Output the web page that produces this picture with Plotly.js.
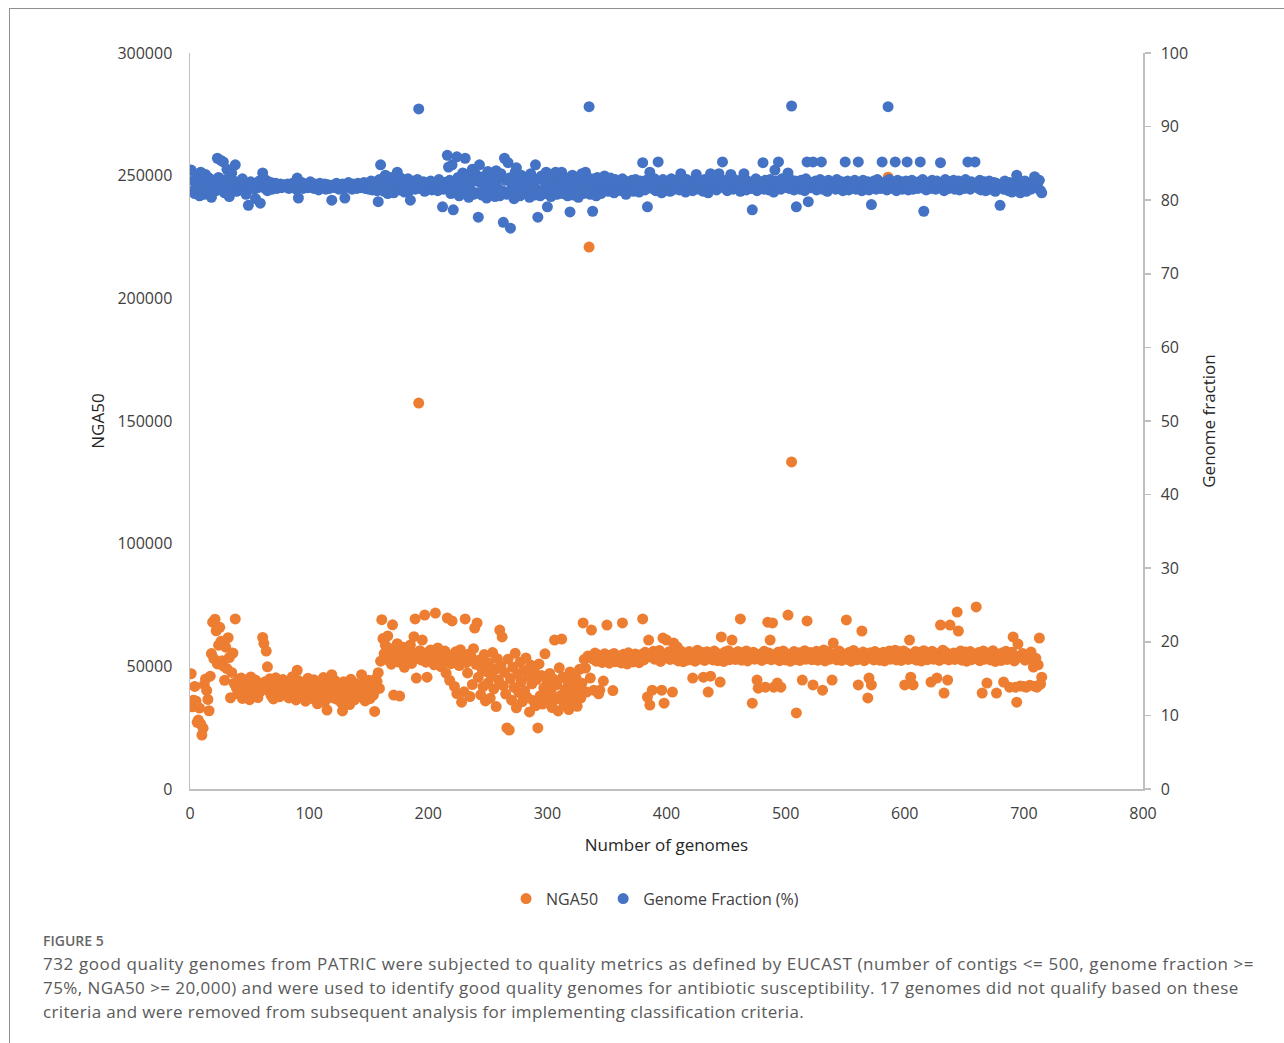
<!DOCTYPE html>
<html>
<head>
<meta charset="utf-8">
<script src="https://cdn.plot.ly/plotly-3.0.1.min.js"></script>
<style>
  html, body { margin: 0; padding: 0; background: #ffffff; overflow: hidden; }
  #chart { position: absolute; left: 0; top: 0; width: 1284px; height: 1043px; }
  #frame { position: absolute; left: 9px; top: 8px; width: 1400px; height: 1200px;
           border-left: 1px solid #8f8f8f; border-top: 1px solid #8f8f8f; pointer-events: none; }
  .cap { position: absolute; left: 43px; font-family: "Open Sans", sans-serif; color: #5a5a5a; white-space: nowrap; }
  #figlabel { top: 931px; font-size: 14px; font-weight: 600; color: #666666; }
  .line { font-size: 17px; }
</style>
</head>
<body>
<div id="chart"></div>
<div id="frame"></div>
<div class="cap" id="figlabel">FIGURE 5</div>
<div class="cap line" style="top:952px; letter-spacing:0.59px">732 good quality genomes from PATRIC were subjected to quality metrics as defined by EUCAST (number of contigs &lt;= 500, genome fraction &gt;=</div>
<div class="cap line" style="top:976px; letter-spacing:0.46px">75%, NGA50 &gt;= 20,000) and were used to identify good quality genomes for antibiotic susceptibility. 17 genomes did not qualify based on these</div>
<div class="cap line" style="top:1000px; letter-spacing:0.35px">criteria and were removed from subsequent analysis for implementing classification criteria.</div>
<script>
// NGA50 per genome (genome 1..715)
const nga50 = [
47000,33500,36200,41800,35900,27200,28100,33000,26500,22000,24800,42500,44800,40200,36500,31900,46000,55200,68000,53100,
69200,64500,51000,58600,65900,60200,52300,50100,44300,57800,49100,61700,53600,37200,47500,55400,43100,69300,41200,38900,
44800,38600,45200,36900,42100,40500,37800,43900,41600,36400,45700,39300,42800,38100,44400,40900,37300,43100,39800,41400,
61800,59400,43700,56200,49800,40100,44900,38200,42600,36700,41900,45300,39200,43500,37600,42200,40800,44600,38400,41300,
39700,43800,37100,42900,40300,45800,38800,41700,36300,48400,44200,39600,42400,37900,43300,40600,35800,41100,45100,38700,
42700,36900,40400,44500,38300,41800,34700,43200,39100,37400,42000,45400,35600,40700,32200,38600,43600,41200,46600,37200,
40900,44100,36600,42300,38900,41500,35200,31800,43700,39400,37800,42600,40200,34400,44700,38100,41900,36300,43000,39700,
42200,37600,40800,46600,38500,43400,35900,41300,39000,44300,36800,42700,40100,38300,31600,45000,43800,47400,41000,52100,
69000,61300,55200,58600,52800,62400,54100,57300,50900,66900,38300,56100,53700,59200,51800,37900,55600,53000,57800,49600,
54300,52100,56900,53400,58700,51200,55500,62100,69300,45200,53800,157300,56400,52600,60700,54900,70900,51700,45600,55800,
53200,56700,52400,55100,50600,71700,54000,57500,51900,53600,49800,55300,52800,56200,47200,69700,54500,44300,51100,68500,
52700,41800,55900,38900,53300,50300,56800,35400,54200,39600,69300,51500,47300,55000,37700,53900,42600,57200,65600,50800,
67700,45500,52600,38400,49100,41700,54800,35900,47800,43200,51400,37000,46200,55600,40800,48700,33600,53100,44400,64800,
50200,62000,42100,47500,38700,24900,52900,24000,45000,36200,49600,41400,55300,33100,46800,39300,51700,43700,35600,48300,
40000,53400,37400,45900,31400,50500,42900,36100,48000,33900,44600,24900,51000,38000,46300,34600,41200,55100,37200,43400,
35000,47100,39900,33200,44800,60700,36500,42500,31800,49400,38100,61100,45700,34100,40600,37300,43900,32400,47700,39000,
35800,42000,38600,45300,33700,40300,48800,37000,43100,67700,52800,49300,39500,54200,220900,45200,64800,53000,40300,55400,
52100,54700,38800,40300,53400,51600,44000,55100,52500,66800,53800,51300,54600,52900,40100,55200,51900,53300,54300,52200,
53600,51400,67700,54900,52700,53900,51000,55500,53100,52400,54400,51800,53700,55000,52300,54100,51500,53500,54800,69300,
52600,55700,54200,37500,60700,34200,53800,40300,56100,52900,54700,55300,53100,56500,52000,40300,61500,35000,54900,60700,
53500,55900,52800,54400,39500,59500,53000,55600,57900,52200,54100,56300,53700,51900,55100,54600,52500,53900,56000,52700,
54300,45200,55300,52100,53600,56600,52900,54800,53200,55600,45600,52400,54000,55900,39500,53400,46000,54500,52600,56200,
53100,55400,52300,54700,43600,62000,53900,52000,55800,53300,54200,56400,52700,54900,60700,53500,55100,52800,54400,56000,
53700,69300,52500,55500,53000,54600,56300,52200,54100,55200,53400,35000,55700,52900,54800,44400,41100,53600,55000,52400,
54200,56100,41500,53200,68000,55400,60700,52700,67700,41500,54700,53000,43200,55800,52300,41500,54000,56200,53500,52600,
55100,70900,53800,52100,133300,54500,56000,52800,31000,53700,55500,52400,54300,44400,53100,56400,52900,68500,54900,53300,
55600,52700,42400,54600,53000,56100,52500,54100,55300,53400,40300,56700,52200,54800,53600,55900,52900,54300,44400,59500,
53800,55200,52600,54700,56300,53100,52400,55000,54000,53500,68900,52800,55600,53900,52100,54900,56500,53200,55300,52700,
42400,54400,53600,64400,55800,52300,54200,53000,37100,45200,55500,42400,53700,52600,56000,54100,53300,55100,52500,54600,
53900,55700,52200,54800,53400,249400,56200,52900,54300,55400,53100,56600,52600,54000,55900,53500,52400,54700,56300,42400,
53700,55300,52800,60700,45600,54500,42400,53000,56000,52500,54900,53600,55700,52200,54100,56400,53200,54600,52700,55500,
53400,43600,56100,52900,54800,53700,45200,55200,52400,66800,54000,56600,39100,53100,55500,44400,52600,66800,54300,53800,
55400,52800,54700,72100,64400,53300,56300,52500,54900,53600,55800,52100,54400,53900,56000,52700,55100,53500,54200,74200,
53000,55600,52300,54600,39100,56200,52900,54100,43200,55300,53400,52600,54800,56400,53200,52000,39100,55000,53700,54500,
52400,55500,43600,53800,56100,52800,54300,41500,53100,55700,62000,52200,41500,35400,59100,54000,42000,53600,55200,41800,
52500,41500,54400,53000,42300,55800,52700,49700,41900,53300,41500,50600,61500,42800,45600
];

// Genome fraction (%) per genome (genome 1..715)
const genomeFraction = [
84.1,81.2,82.6,80.9,83.3,81.7,82.9,80.6,83.8,81.4,82.2,80.8,83.5,82.0,81.1,83.0,81.6,80.4,82.4,81.9,
82.7,81.3,85.7,83.1,81.8,85.4,82.5,85.2,81.0,82.8,84.2,81.5,80.5,82.3,83.7,81.9,82.6,84.8,81.2,82.1,
81.7,82.4,81.4,82.9,81.9,82.2,80.8,82.0,79.3,81.6,82.5,81.8,82.1,81.5,80.2,82.3,81.7,82.6,79.6,81.9,
83.7,82.0,81.6,82.7,81.3,82.2,81.8,82.4,81.5,82.0,81.9,82.3,81.6,82.1,81.8,82.2,81.7,82.0,81.9,82.1,
81.8,82.2,81.6,82.0,81.9,82.3,81.7,82.1,81.5,83.0,80.3,82.0,81.8,82.4,81.6,82.1,81.9,82.2,81.7,82.0,
82.5,81.8,82.0,81.6,82.2,81.9,82.1,81.4,82.3,81.7,82.0,81.8,82.2,81.5,81.9,82.1,81.6,82.0,80.0,81.8,
82.1,81.7,82.3,81.9,81.5,82.0,81.8,82.2,81.6,80.3,82.0,81.9,82.4,81.7,82.1,81.5,82.2,81.8,82.0,81.6,
82.3,81.9,81.7,82.1,81.8,82.4,81.6,82.0,82.2,81.5,81.9,82.6,81.4,82.2,81.7,82.5,81.3,79.8,82.8,84.8,
81.6,82.9,81.2,83.4,82.0,80.9,82.6,81.5,83.1,82.2,81.0,82.7,81.8,83.8,82.3,81.4,83.0,81.9,82.5,81.1,
82.4,81.7,82.9,81.3,80.0,82.2,81.8,82.6,81.5,82.0,82.8,92.4,81.6,82.3,81.9,82.5,81.2,82.1,81.7,82.4,
81.9,82.6,81.4,82.2,81.7,82.0,82.5,81.3,82.8,81.8,82.1,79.1,81.5,82.4,81.9,86.1,84.5,82.7,80.9,84.8,
78.7,82.3,81.2,85.9,83.1,80.6,82.9,81.6,83.7,82.0,85.7,81.1,83.4,80.4,82.5,81.3,84.2,80.8,82.6,83.5,
81.0,77.7,84.8,82.4,80.7,83.2,81.5,82.8,80.3,83.9,81.9,82.6,80.9,83.3,82.1,80.5,84.0,81.7,82.9,80.6,
83.6,81.3,77.0,85.7,82.7,80.8,85.1,83.0,76.2,81.6,82.4,80.2,83.8,84.4,81.2,82.9,80.6,83.4,81.8,82.5,
80.9,83.1,81.4,82.7,80.4,83.6,81.9,82.2,80.7,84.8,81.5,77.7,82.9,80.6,83.3,81.2,82.6,80.9,83.8,79.1,
81.7,82.8,80.5,83.5,81.3,82.4,83.8,80.8,82.1,81.6,83.2,83.8,80.9,82.7,81.4,83.0,80.6,82.3,78.4,81.9,
83.4,80.7,82.5,81.1,83.0,80.4,82.8,81.6,83.6,80.9,82.2,83.8,81.3,82.6,92.7,80.8,82.9,78.5,81.7,82.4,
80.6,83.1,81.9,82.3,80.9,82.7,81.4,83.3,81.8,82.5,81.2,82.0,83.0,81.6,82.4,81.0,82.8,81.7,82.2,81.4,
82.6,81.3,82.9,81.8,82.1,80.8,82.5,81.9,82.3,81.5,82.7,81.2,82.0,82.8,81.6,82.4,81.1,82.6,81.8,85.1,
82.2,81.4,82.7,79.1,81.9,83.8,82.4,81.6,82.1,82.9,81.3,82.5,85.2,81.7,82.2,81.0,82.8,81.8,82.4,81.5,
82.0,82.6,81.2,82.9,81.7,82.3,81.5,82.7,81.9,82.1,81.4,83.6,82.2,81.8,82.5,81.1,82.8,81.6,82.3,81.9,
82.4,81.3,82.7,81.8,83.5,82.0,81.5,82.6,81.9,82.2,81.2,82.8,81.7,82.4,81.0,82.5,83.6,81.8,82.1,81.6,
82.9,81.4,82.3,83.6,81.9,82.6,85.2,81.7,82.0,82.7,81.3,82.4,81.8,83.5,82.2,81.5,82.8,81.9,82.1,81.6,
82.5,81.2,82.8,81.7,83.6,82.0,81.4,82.6,81.9,82.3,81.6,78.7,82.4,81.8,82.9,81.3,82.2,81.7,82.5,82.0,
85.1,81.5,82.7,81.9,82.2,81.4,82.8,81.7,82.4,81.1,84.1,82.6,81.8,85.2,82.0,81.5,82.9,81.7,82.3,81.9,
82.5,83.7,81.6,82.8,92.8,82.1,81.4,82.6,79.1,81.9,82.3,81.5,82.7,81.8,82.2,81.3,82.9,85.2,79.8,82.0,
81.7,82.4,85.2,81.9,82.6,81.4,82.2,81.8,82.8,85.2,81.5,82.3,81.9,82.5,81.2,82.7,81.6,82.1,82.4,81.8,
82.2,81.5,82.8,81.9,82.3,81.6,82.5,81.3,82.0,85.2,81.8,82.6,81.4,82.1,81.7,82.4,81.9,82.7,81.5,82.2,
85.2,81.8,82.4,81.3,82.7,81.6,82.1,81.9,82.5,81.4,82.2,79.4,81.7,82.6,82.0,81.5,82.8,81.8,82.3,81.6,
85.2,82.1,81.7,82.5,81.4,92.7,82.8,81.9,82.2,81.6,82.4,85.2,81.3,82.7,81.8,82.0,82.5,81.5,82.3,81.9,
82.6,85.2,81.4,82.2,81.8,82.7,81.5,82.3,81.9,82.1,81.6,82.5,85.2,81.7,82.8,78.5,82.0,81.4,82.4,81.9,
82.2,81.6,82.7,81.8,82.3,81.5,82.6,81.9,82.1,85.1,81.7,82.4,81.3,82.8,81.8,82.2,81.6,82.5,81.9,82.0,
82.7,81.5,82.3,81.8,82.6,81.4,82.1,81.9,82.4,81.6,82.8,81.7,85.2,82.2,81.5,82.5,81.8,82.0,85.2,81.9,
82.3,81.6,82.7,81.4,82.1,81.8,82.5,81.3,82.2,81.9,82.6,81.5,82.0,81.7,82.4,81.2,82.3,81.8,82.1,79.3,
81.9,82.2,81.5,82.6,81.7,82.0,81.3,82.4,81.8,81.1,82.3,81.6,81.9,83.4,81.4,82.1,81.0,82.5,81.7,81.5,
82.6,81.2,82.0,81.8,82.3,81.5,82.4,82.1,83.2,81.9,82.5,81.6,82.7,81.3,81.0
];

const xTickVals = [0,100,200,300,400,500,600,700,800];
const leftTickVals = [0,50000,100000,150000,200000,250000,300000];
const rightTickVals = [0,10,20,30,40,50,60,70,80,90,100];
const seriesNames = ['NGA50', 'Genome Fraction (%)'];
const seriesColors = ['#ED7D31', '#4472C4'];

const genomeNumberA = nga50.map((_, i) => i + 1);
const genomeNumberB = genomeFraction.map((_, i) => i + 1);

const FONT = '"Open Sans", "Noto Sans", sans-serif';
const axisGray = '#bfbfbf';
const textGray = '#404040';

const traces = [
  { type: 'scatter', mode: 'markers', name: seriesNames[0], x: genomeNumberA, y: nga50,
    xaxis: 'x', yaxis: 'y', marker: { color: seriesColors[0], size: 11, line: { width: 0 } } },
  { type: 'scatter', mode: 'markers', name: seriesNames[1], x: genomeNumberB, y: genomeFraction,
    xaxis: 'x', yaxis: 'y2', marker: { color: seriesColors[1], size: 11, line: { width: 0 } } }
];

const layout = {
  width: 1284, height: 1043,
  margin: { l: 190, r: 141, t: 53, b: 254, pad: 0 },
  paper_bgcolor: 'rgba(0,0,0,0)', plot_bgcolor: 'rgba(0,0,0,0)',
  font: { family: FONT, size: 16, color: textGray },
  showlegend: true,
  legend: { orientation: 'h', x: 0.488, xanchor: 'center', y: -0.149, yanchor: 'middle',
            font: { family: FONT, size: 16, color: textGray }, itemwidth: 30, tracegroupgap: 0 },
  xaxis: {
    range: [0, 800], tickmode: 'array', tickvals: xTickVals, ticktext: xTickVals.map(String),
    showline: true, linecolor: axisGray, linewidth: 1.5, showgrid: false, zeroline: false,
    ticks: '', ticklabelstandoff: 9, tickfont: { family: FONT, size: 16, color: textGray },
    title: { text: 'Number of genomes', standoff: 16, font: { family: FONT, size: 17, color: '#262626' } },
    automargin: false
  },
  yaxis: {
    range: [0, 300000], tickmode: 'array', tickvals: leftTickVals, ticktext: leftTickVals.map(String),
    showline: true, linecolor: axisGray, linewidth: 1.5, showgrid: false, zeroline: false,
    ticks: '', ticklabelstandoff: 13, tickfont: { family: FONT, size: 16, color: textGray },
    title: { text: 'NGA50', standoff: 8, font: { family: FONT, size: 17, color: '#262626' } },
    automargin: false
  },
  yaxis2: {
    range: [0, 100], overlaying: 'y', side: 'right', tickmode: 'array', tickvals: rightTickVals,
    ticktext: rightTickVals.map(String),
    showline: true, linecolor: axisGray, linewidth: 1.5, showgrid: false, zeroline: false,
    ticks: 'outside', ticklen: 6, tickwidth: 1.5, tickcolor: axisGray, ticklabelstandoff: 7,
    tickfont: { family: FONT, size: 16, color: textGray },
    title: { text: 'Genome fraction', standoff: 16, font: { family: FONT, size: 17, color: '#262626' } },
    automargin: false
  }
};

Plotly.newPlot('chart', traces, layout, { staticPlot: true, displayModeBar: false });
</script>
</body>
</html>
